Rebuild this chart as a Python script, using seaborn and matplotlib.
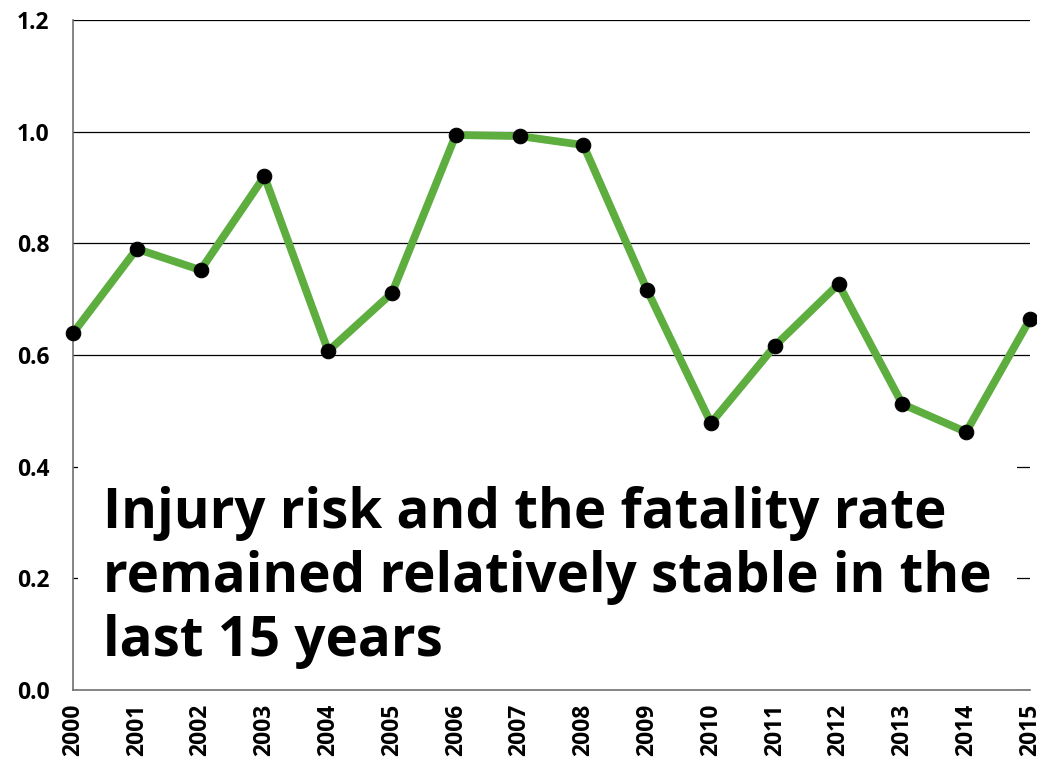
import numpy as np
import pandas as pd
import matplotlib
matplotlib.use("Agg")
import matplotlib.pyplot as plt
import seaborn as sns

years = list(range(2000, 2016))
rate  = [0.639, 0.790, 0.752, 0.920, 0.607, 0.711, 0.994, 0.992,
         0.976, 0.716, 0.478, 0.616, 0.727, 0.512, 0.462, 0.664]
y_ticks = [0.0, 0.2, 0.4, 0.6, 0.8, 1.0, 1.2]
note = ("Injury risk and the fatality rate\n"
        "remained relatively stable in the\n"
        "last 15 years")

GREEN = "#5dad3f"

sns.set_style("white")
plt.rcParams["font.family"] = ["Open Sans", "DejaVu Sans"]
plt.rcParams["text.color"] = "black"
plt.rcParams["xtick.color"] = "black"
plt.rcParams["ytick.color"] = "black"

df = pd.DataFrame({"year": years, "rate": rate})

fig = plt.figure(figsize=(10.37, 7.68), dpi=100)
ax = fig.add_axes([0.0704, 0.1016, 0.9228, 0.8724])

sns.lineplot(data=df, x="year", y="rate", ax=ax, color=GREEN, linewidth=5.6,
             marker="o", markersize=10.5, markerfacecolor="black",
             markeredgecolor="black", clip_on=False, zorder=3)

ax.set_xlim(years[0], years[-1])
ax.set_ylim(y_ticks[0], y_ticks[-1])
ax.set_xticks(years)
ax.set_xticklabels([str(y) for y in years], rotation=90, fontsize=16.5,
                   fontweight="bold")
ax.set_yticks(y_ticks)
ax.set_yticklabels([f"{v:.1f}" for v in y_ticks], fontsize=16.5,
                   fontweight="bold")
ax.set_xlabel(""); ax.set_ylabel("")

ax.grid(axis="y", color="black", linewidth=0.9)
ax.set_axisbelow(True)
for side in ["top", "right"]:
    ax.spines[side].set_visible(False)
for side in ["left", "bottom"]:
    ax.spines[side].set_color("#707070")
    ax.spines[side].set_linewidth(1.2)
ax.tick_params(axis="y", direction="inout", length=14, width=1.2,
               color="#707070", pad=10)
ax.tick_params(axis="x", direction="out", length=7, width=1.2,
               color="#707070", pad=3)

ax.text(0.0313, 0.0507, note, transform=ax.transAxes, fontsize=39.3,
        fontweight="bold", color="black", ha="left", va="baseline",
        linespacing=1.22, zorder=2,
        bbox=dict(facecolor="white", edgecolor="none", pad=18))

fig.savefig("out.png", dpi=100)
plt.close(fig)
